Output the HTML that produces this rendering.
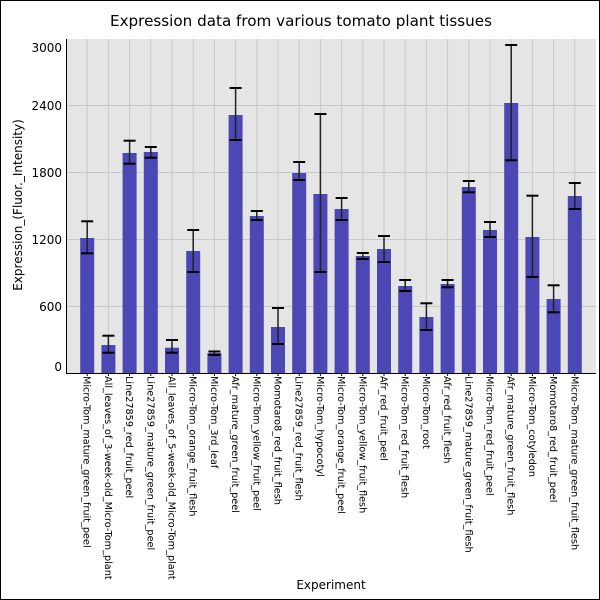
<!DOCTYPE html>
<html><head><meta charset="utf-8"><style>
html,body{margin:0;padding:0;background:#fff}
svg{display:block}
text{font-family:"DejaVu Sans","Liberation Sans",sans-serif;fill:#000}
</style></head><body>
<svg width="600" height="600" viewBox="0 0 600 600" xmlns="http://www.w3.org/2000/svg">
<rect x="0.5" y="0.5" width="599" height="599" fill="#fff" stroke="#000" stroke-width="1"/>
<text x="301" y="26" font-size="15" text-anchor="middle" textLength="382" lengthAdjust="spacingAndGlyphs">Expression data from various tomato plant tissues</text>
<rect x="66" y="39" width="530" height="334" fill="#e5e5e5"/>
<g stroke="#c8c8c8" stroke-width="1">
<line x1="66" x2="596" y1="105.5" y2="105.5"/>
<line x1="66" x2="596" y1="172.5" y2="172.5"/>
<line x1="66" x2="596" y1="239.5" y2="239.5"/>
<line x1="66" x2="596" y1="306.5" y2="306.5"/>
</g>
<g id="vg" stroke="#c8c8c8" stroke-width="1"></g>
<g id="bars"></g>
<line x1="66.5" y1="39" x2="66.5" y2="373" stroke="#000"/>
<line x1="66" y1="373.5" x2="596" y2="373.5" stroke="#000"/>
<g font-size="12" text-anchor="end">
<text x="62" y="52">3000</text>
<text x="62" y="110">2400</text>
<text x="62" y="177">1800</text>
<text x="62" y="244">1200</text>
<text x="62" y="311">600</text>
<text x="62" y="371">0</text>
</g>
<text transform="translate(22,205) rotate(-90)" font-size="12" text-anchor="middle">Expression_(Fluor._Intensity)</text>
<text x="331" y="589" font-size="12" text-anchor="middle">Experiment</text>
<g id="labels" font-size="9.7"></g>
</svg>
<script>
var d=[
["Micro-Tom_mature_green_fruit_peel",238,221.3,253.3],
["All_leaves_of_3-week-old_Micro-Tom_plant",345,335.7,352.7],
["Line27859_red_fruit_peel",153,140.7,163.7],
["Line27859_mature_green_fruit_peel",152,147,157.7],
["All_leaves_of_5-week-old_Micro-Tom_plant",347.7,340,352.7],
["Micro-Tom_orange_fruit_flesh",251,230,272],
["Micro-Tom_3rd_leaf",353,351.5,355],
["Afr_mature_green_fruit_peel",115,88,140],
["Micro-Tom_yellow_fruit_peel",216,211,220],
["Momotaro8_red_fruit_flesh",327,308,344],
["Line27859_red_fruit_flesh",173,162,180],
["Micro-Tom_hypocotyl",194,114,272],
["Micro-Tom_orange_fruit_peel",209,198,220],
["Micro-Tom_yellow_fruit_flesh",256,253,259],
["Afr_red_fruit_peel",249,236,262],
["Micro-Tom_red_fruit_flesh",286,280,291],
["Micro-Tom_root",317,303.3,330],
["Afr_red_fruit_flesh",284,280,287.3],
["Line27859_mature_green_fruit_flesh",187,181,192.3],
["Micro-Tom_red_fruit_peel",230,222,237],
["Afr_mature_green_fruit_flesh",103,45,160.3],
["Micro-Tom_cotyledon",237,195.7,277],
["Momotaro8_red_fruit_peel",299,285.3,312.3],
["Micro-Tom_mature_green_fruit_flesh",196,183,209]];
var ns="http://www.w3.org/2000/svg",vg=document.getElementById("vg"),b=document.getElementById("bars"),L=document.getElementById("labels");
function el(t,a,p){var e=document.createElementNS(ns,t);for(var k in a)e.setAttribute(k,a[k]);p.appendChild(e);return e;}
d.forEach(function(r,i){
var cx=66+21.2*(i+1);
el("line",{x1:cx,x2:cx,y1:39,y2:373},vg);
el("rect",{x:cx-7,y:r[1],width:14,height:373-r[1],fill:"#4b47b4"},b);
el("line",{x1:cx,x2:cx,y1:r[2],y2:r[3],stroke:"#222","stroke-width":1.5},b);
el("line",{x1:cx-6,x2:cx+6,y1:r[2],y2:r[2],stroke:"#000","stroke-width":2},b);
el("line",{x1:cx-6,x2:cx+6,y1:r[3],y2:r[3],stroke:"#000","stroke-width":2},b);
el("line",{x1:cx,x2:cx,y1:373,y2:376,stroke:"#000"},b);
var t=el("text",{transform:"translate("+(cx-3.5)+",376) rotate(90)"},L);
t.textContent=r[0];
});
</script>
</body></html>
